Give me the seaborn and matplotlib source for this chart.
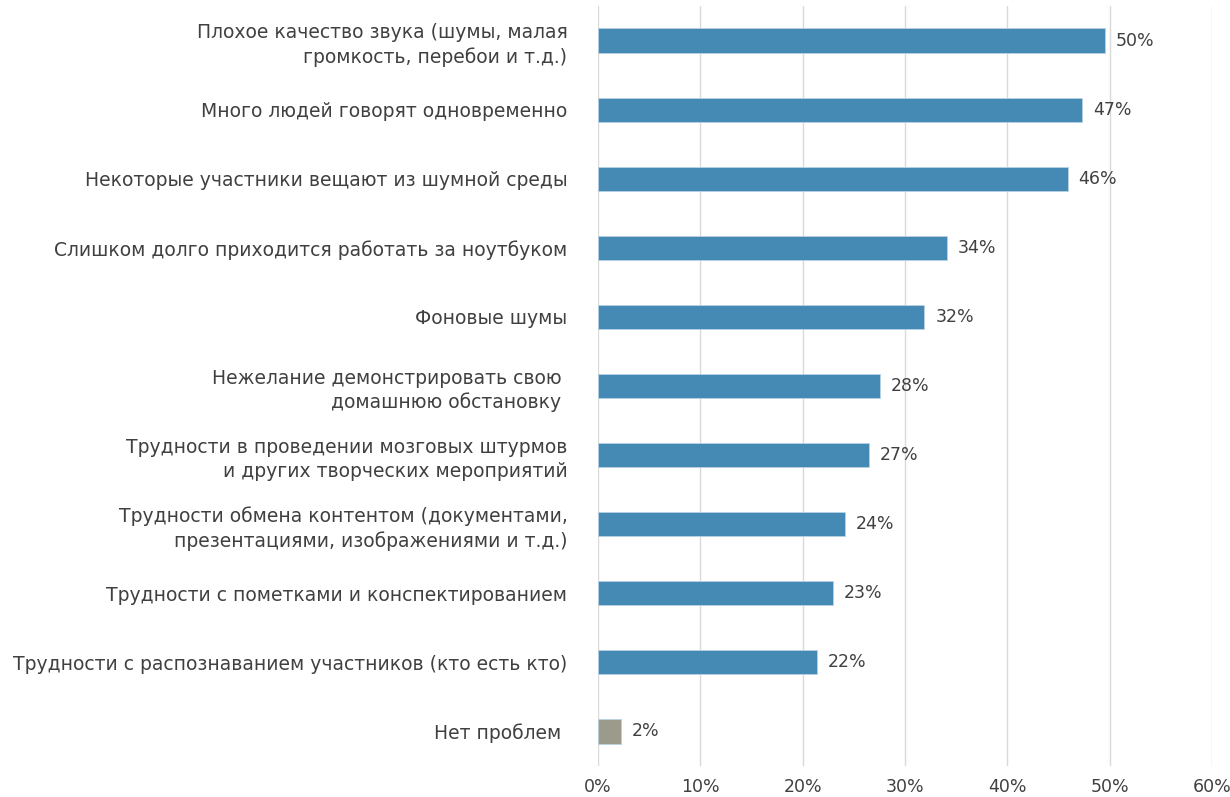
import numpy as np
import pandas as pd
import matplotlib
matplotlib.use("Agg")
import matplotlib.pyplot as plt
import seaborn as sns

categories = [
    "Плохое качество звука (шумы, малая\nгромкость, перебои и т.д.)",
    "Много людей говорят одновременно",
    "Некоторые участники вещают из шумной среды",
    "Слишком долго приходится работать за ноутбуком",
    "Фоновые шумы",
    "Нежелание демонстрировать свою \nдомашнюю обстановку ",
    "Трудности в проведении мозговых штурмов\nи других творческих мероприятий",
    "Трудности обмена контентом (документами,\nпрезентациями, изображениями и т.д.)",
    "Трудности с пометками и конспектированием",
    "Трудности с распознаванием участников (кто есть кто)",
    "Нет проблем ",
]
values = [0.495, 0.473, 0.459, 0.341, 0.319, 0.276, 0.265, 0.241, 0.230, 0.214, 0.022]
value_labels = ["50%", "47%", "46%", "34%", "32%", "28%", "27%", "24%", "23%", "22%", "2%"]
ticks = [0, 0.1, 0.2, 0.3, 0.4, 0.5, 0.6]
tick_labels = ["0%", "10%", "20%", "30%", "40%", "50%", "60%"]

df = pd.DataFrame({"cat": categories, "val": values})
colors = ["#4589b5"] * 10 + ["#9c9a8a"]

sns.set_style("white")
plt.rcParams["font.family"] = ["DejaVu Sans"]
text_color = "#404040"

fig = plt.figure(figsize=(12.3, 7.97), dpi=100)
ax = fig.add_axes([598 / 1230, 1 - 766 / 797, (1212 - 598) / 1230, 760 / 797])

sns.barplot(data=df, x="val", y="cat", hue="cat", palette=colors, legend=False,
            saturation=1, width=0.35, ax=ax, edgecolor="#b8d2e4", linewidth=0.6)

for i, (v, lab) in enumerate(zip(values, value_labels)):
    ax.text(v + 0.0105, i, lab, va="center", ha="left", fontsize=12.5, color=text_color)

ax.set_xlim(0, 0.6)
ax.set_xticks(ticks)
ax.set_xticklabels(tick_labels, fontsize=12.5, color=text_color)
ax.xaxis.grid(True, color="#d9d9d9", linewidth=1)
ax.set_axisbelow(True)
ax.tick_params(axis="y", length=0, pad=22, labelsize=13.5, labelcolor=text_color)
ax.tick_params(axis="x", length=0, pad=9)
for lab in ax.get_yticklabels():
    lab.set_multialignment("right")
    lab.set_linespacing(1.3)
ax.set_xlabel("")
ax.set_ylabel("")
for s in ax.spines.values():
    s.set_visible(False)

fig.savefig("out.png", dpi=100)
